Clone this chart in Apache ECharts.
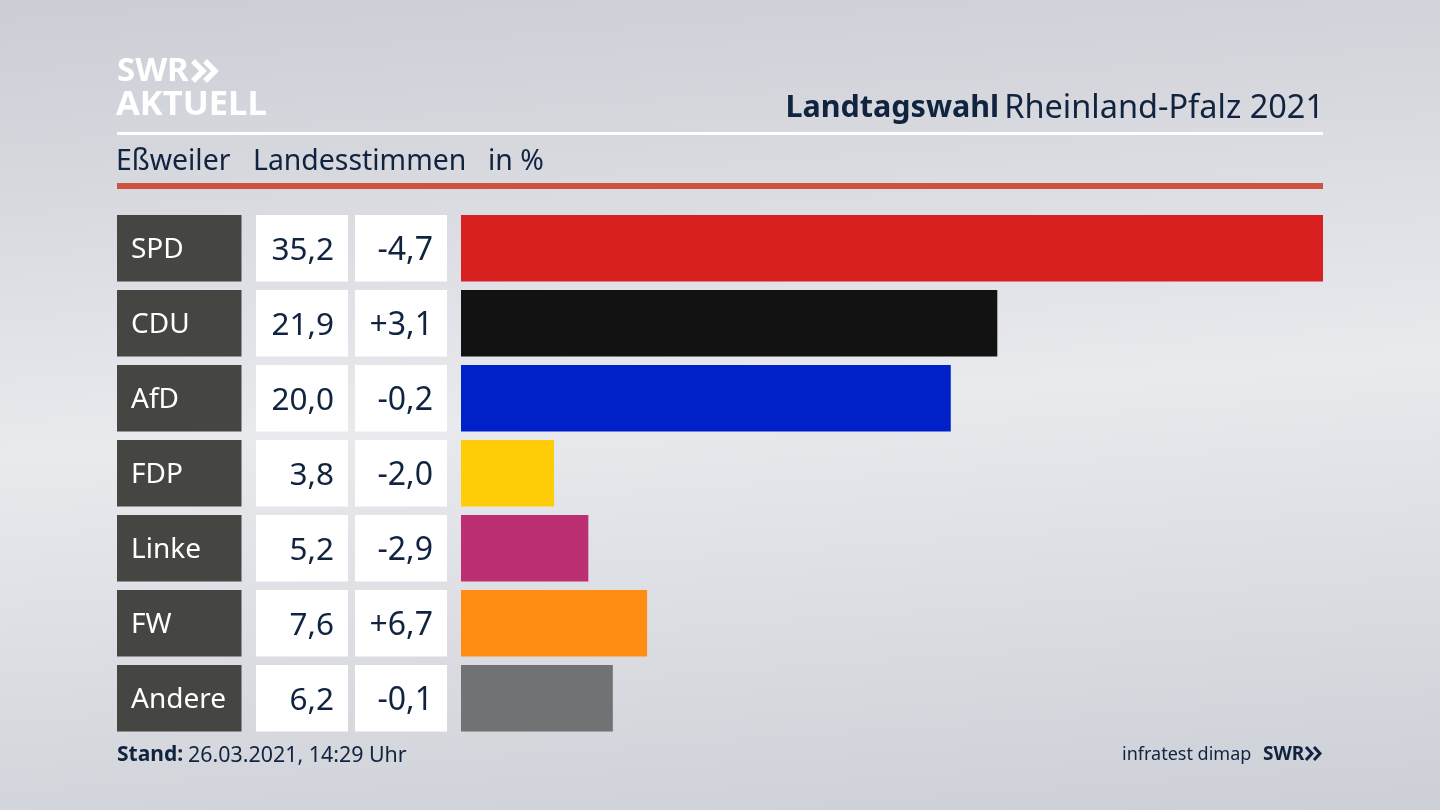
<!DOCTYPE html>
<html lang="de">
<head>
    <meta charset="UTF-8">
    <title>Landtagswahl Rheinland-Pfalz 2021</title>
    <script src="https://cdn.jsdelivr.net/npm/echarts@6/dist/echarts.min.js"></script>
    <style>
        html, body { margin: 0; padding: 0; }
        body {
            width: 1440px;
            height: 810px;
            overflow: hidden;
            background: linear-gradient(176deg, #cbced5 0%, #d6d8de 20%, #e9eaee 50%, #dcdee3 72%, #cccfd6 100%);
        }
        #chart { width: 1440px; height: 810px; }
    </style>
</head>
<body>
<div id="chart"></div>
<script type="text/javascript">
    var parties = ['SPD', 'CDU', 'AfD', 'FDP', 'Linke', 'FW', 'Andere'];
    var shares = [35.2, 21.9, 20.0, 3.8, 5.2, 7.6, 6.2];
    var changes = [-4.7, 3.1, -0.2, -2.0, -2.9, 6.7, -0.1];
    var partyColors = ['#d7201f', '#121212', '#0021c8', '#ffcc08', '#bc2f73', '#ff8d14', '#717274'];
    var cellFill = [1, 1, 1, 1, 1, 1, 1];

    var FONT = '"Noto Sans", sans-serif';
    var INK = '#10233f';
    var TOP = 210.75, HEIGHT = 525;

    function comma(v) {
        return Math.abs(v).toFixed(1).replace('.', ',');
    }

    var columns = [
        { left: 117, width: 124.5, color: '#454542', text: '#fff', size: 28, pos: 'insideLeft', dy: 2, texts: parties },
        { left: 256, width: 92, color: '#fff', text: INK, size: 31.5, pos: 'insideRight', dy: 3, texts: shares.map(comma) },
        { left: 355, width: 92, color: '#fff', text: INK, size: 32, pos: 'insideRight', dy: 3,
            texts: changes.map(function (v) { return (v > 0 ? '+' : '-') + comma(v); }) }
    ];

    var grids = [], xAxes = [], yAxes = [], series = [];

    columns.forEach(function (col, i) {
        grids.push({ left: col.left, width: col.width, top: TOP, height: HEIGHT });
        xAxes.push({ gridIndex: i, type: 'value', min: 0, max: 1, show: false });
        yAxes.push({ gridIndex: i, type: 'category', inverse: true, data: parties, show: false });
        series.push({
            type: 'bar',
            xAxisIndex: i,
            yAxisIndex: i,
            data: cellFill,
            barWidth: '88.8%',
            silent: true,
            itemStyle: { color: col.color },
            label: {
                show: true,
                position: col.pos,
                distance: 14,
                offset: [0, col.dy],
                color: col.text,
                fontFamily: FONT,
                fontSize: col.size,
                formatter: function (p) { return col.texts[p.dataIndex]; }
            }
        });
    });

    // die eigentlichen Balken
    grids.push({ left: 461, width: 862, top: TOP, height: HEIGHT });
    xAxes.push({ gridIndex: 3, type: 'value', min: 0, max: Math.max.apply(null, shares), show: false });
    yAxes.push({ gridIndex: 3, type: 'category', inverse: true, data: parties, show: false });
    series.push({
        type: 'bar',
        xAxisIndex: 3,
        yAxisIndex: 3,
        barWidth: '88.8%',
        data: shares.map(function (v, i) {
            return { value: v, itemStyle: { color: partyColors[i] } };
        })
    });

    var myChart = echarts.init(document.getElementById('chart'));
    myChart.setOption({
        animation: false,
        backgroundColor: 'transparent',
        title: [
            {
                text: '{b|Landtagswahl} {r|Rheinland-Pfalz 2021}',
                right: 116,
                top: 92,
                padding: 0,
                textStyle: {
                    rich: {
                        b: { fontFamily: FONT, fontSize: 30.5, fontWeight: 'bold', color: INK },
                        r: { fontFamily: FONT, fontSize: 32.5, fontWeight: 'normal', color: INK }
                    }
                }
            },
            {
                text: 'Eßweiler',
                left: 116,
                top: 148,
                padding: 0,
                textStyle: { fontFamily: FONT, fontSize: 28.4, fontWeight: 'normal', color: INK }
            },
            {
                text: 'Landesstimmen',
                left: 253,
                top: 148,
                padding: 0,
                textStyle: { fontFamily: FONT, fontSize: 28.4, fontWeight: 'normal', color: INK }
            },
            {
                text: 'in %',
                left: 488,
                top: 148,
                padding: 0,
                textStyle: { fontFamily: FONT, fontSize: 28.4, fontWeight: 'normal', color: INK }
            },
            {
                text: '{b|Stand:} {r|26.03.2021, 14:29 Uhr}',
                left: 117,
                top: 745,
                padding: 0,
                textStyle: {
                    rich: {
                        b: { fontFamily: FONT, fontSize: 21, fontWeight: 'bold', color: INK },
                        r: { fontFamily: FONT, fontSize: 21.4, fontWeight: 'normal', color: INK }
                    }
                }
            },
            {
                text: 'infratest dimap',
                left: 1122,
                top: 746,
                padding: 0,
                textStyle: { fontFamily: FONT, fontSize: 18, fontWeight: 'normal', color: INK }
            }
        ],
        grid: grids,
        xAxis: xAxes,
        yAxis: yAxes,
        series: series,
        graphic: [
            { type: 'rect', shape: { x: 117, y: 132, width: 1206, height: 3 }, style: { fill: '#fff' } },
            { type: 'rect', shape: { x: 117, y: 183, width: 1206, height: 6 }, style: { fill: '#cd5340' } },
            // Logo oben
            { type: 'text', x: 117, y: 55, style: { text: 'SWR', font: 'bold 33px ' + FONT, fill: '#fff' } },
            { type: 'text', x: 116, y: 88, style: { text: 'AKTUELL', font: 'bold 34.5px ' + FONT, fill: '#fff' } },
            { type: 'polyline', shape: { points: [[193, 61], [203, 71], [193, 81]] }, style: { stroke: '#fff', lineWidth: 5.5, fill: null } },
            { type: 'polyline', shape: { points: [[205, 61], [215, 71], [205, 81]] }, style: { stroke: '#fff', lineWidth: 5.5, fill: null } },
            // Logo unten
            { type: 'text', x: 1263, y: 745, style: { text: 'SWR', font: 'bold 19px ' + FONT, fill: INK } },
            { type: 'polyline', shape: { points: [[1306, 747], [1312, 753.5], [1306, 760]] }, style: { stroke: INK, lineWidth: 3, fill: null } },
            { type: 'polyline', shape: { points: [[1314, 747], [1320, 753.5], [1314, 760]] }, style: { stroke: INK, lineWidth: 3, fill: null } }
        ]
    });
</script>
</body>
</html>
